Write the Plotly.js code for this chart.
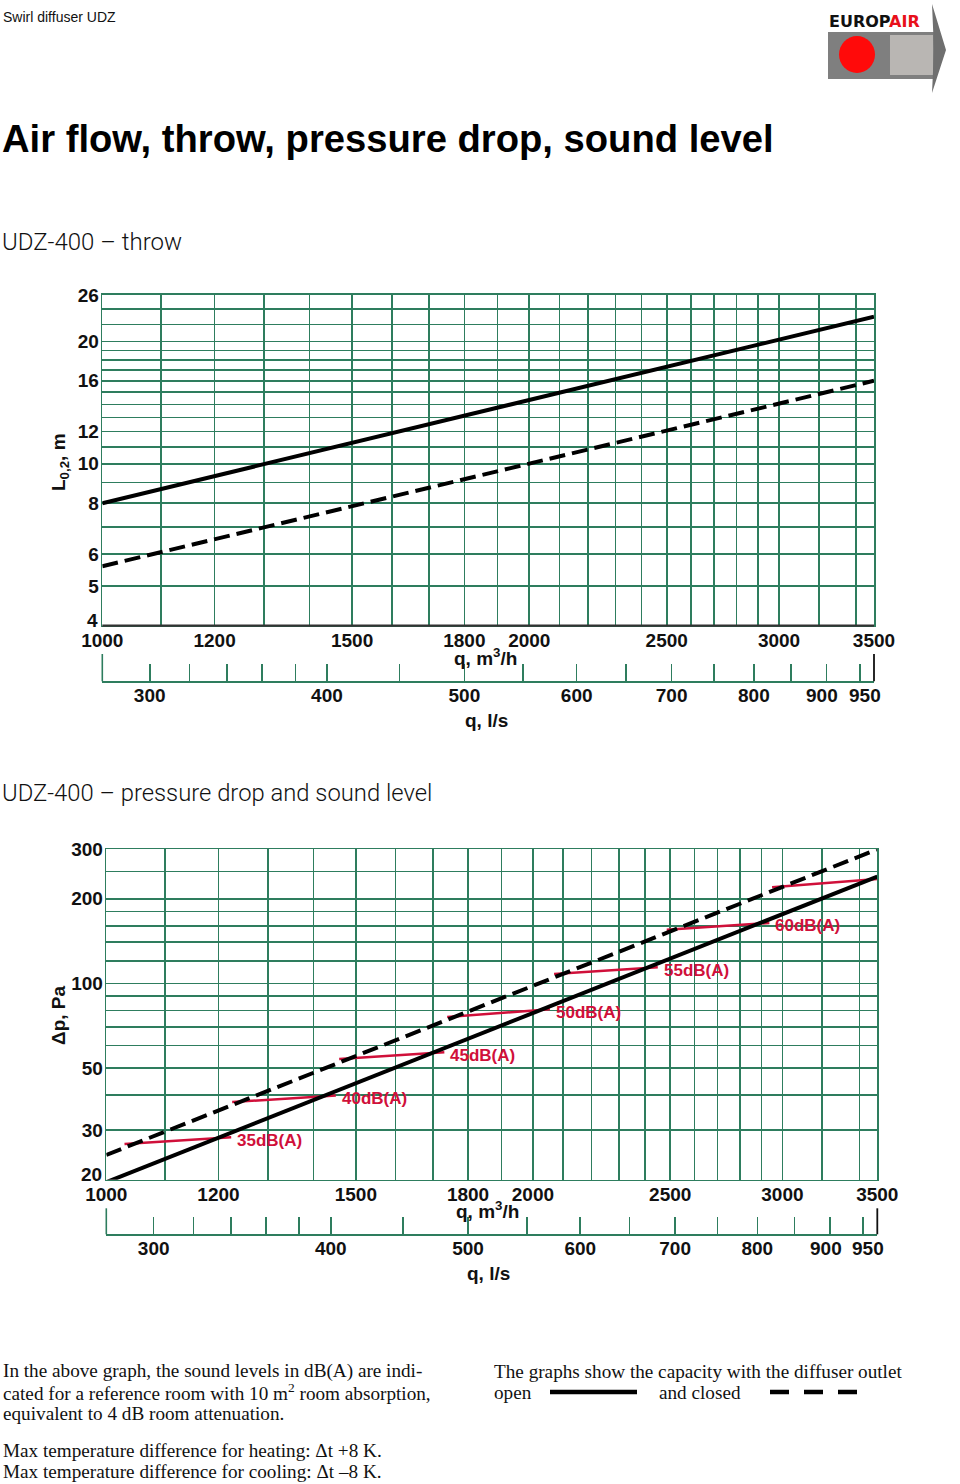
<!DOCTYPE html>
<html><head><meta charset="utf-8">
<script src="https://cdn.plot.ly/plotly-3.0.1.min.js"></script>
<style>html,body{margin:0;padding:0;background:#fff}</style>
</head><body><div id="chart" style="width:960px;height:1484px"></div>
<script>
// ---------- data ----------
const qGrid = [1000,1100,1200,1300,1400,1500,1600,1700,1800,1900,2000,2100,2200,2300,2400,2500,2600,2700,2800,2900,3000,3200,3400,3500];
const qLabels = [1000,1200,1500,1800,2000,2500,3000,3500];
const lsTicks = [300,320,340,360,380,400,450,500,550,600,650,700,750,800,850,900,950];
const lsLabels = [300,400,500,600,700,800];
const lsEndLabels = [900,950];            // crowded pair, nudged apart as in the original
const throwGrid = [4,5,6,7,8,9,10,11,12,13,14,15,16,17,18,19,20,22,24,26];
const throwLabels = [5,6,8,10,12,16,20,26];
const dpGrid = [20,30,40,50,60,70,80,90,100,120,140,160,180,200,250,300];
const dpLabels = [30,50,100,200,300];

const qEnds = [1000, 3500];            // m3/h
const throwOpen = [8.0, 23.0];         // m
const throwClosed = [5.6, 16.0];       // m
const dpOpen = [19.6, 240];            // Pa
const dpClosed = [24.5, 300];          // Pa

const soundText  = ['35dB(A)','40dB(A)','45dB(A)','50dB(A)','55dB(A)','60dB(A)',''];
const soundQ1 = [1030,1227,1460,1740,2070,2486,2950];
const soundP1 = [26.8,37.8,53.8,75.9,108,155,220];
const soundQ2 = [1225,1452,1732,2056,2450,2937,3500];
const soundP2 = [28.3,39.9,56.8,80.8,114,164,235];

// ---------- helpers ----------
const W = 960, H = 1484;
const px = x => x / W, py = y => 1 - y / H;
const GREEN = '#2e7d5e', RED = '#d0103a';
const SANS = 'Liberation Sans, Arial, sans-serif';
const SERIF = 'Liberation Serif, Times New Roman, serif';
const tickFont = {family: SANS, size: 19, color: '#111', weight: 700};
const lg = Math.log10;
const tt = (vals, labels) => vals.map(v => labels.includes(v) ? String(v) : '');

function gridAxis(domain, range, vals, labels, anchor, standoff) {
  return {type: 'log', domain, range, anchor, tickmode: 'array', tickvals: vals, ticktext: tt(vals, labels),
    showgrid: true, gridcolor: GREEN, gridwidth: 1.6, showline: true, linecolor: GREEN, linewidth: 1.6,
    mirror: true, ticks: '', tickangle: 0, ticklabelstandoff: standoff, tickfont: tickFont, zeroline: false, fixedrange: true};
}
function lsAxis(over, pos) {
  return {type: 'log', overlaying: over, anchor: 'free', position: pos, side: 'bottom',
    range: [lg(qEnds[0] / 3.6), lg(qEnds[1] / 3.6)], tickmode: 'array', tickvals: lsTicks, ticktext: tt(lsTicks, lsLabels),
    ticks: 'inside', ticklen: 17, tickwidth: 1.6, tickcolor: GREEN, showline: true, linecolor: GREEN, linewidth: 1.6,
    tickangle: 0, ticklabelstandoff: -4,
    showgrid: false, zeroline: false, tickfont: tickFont, fixedrange: true};
}

// ---------- traces ----------
const segX = [], segY = [];
soundQ1.forEach((q, i) => { segX.push(q, soundQ2[i], null); segY.push(soundP1[i], soundP2[i], null); });

const data = [
  {x: qEnds, y: throwOpen, xaxis: 'x', yaxis: 'y', mode: 'lines', line: {color: '#000', width: 4}, hoverinfo: 'skip'},
  {x: qEnds, y: throwClosed, xaxis: 'x', yaxis: 'y', mode: 'lines', line: {color: '#000', width: 4, dash: '16px,7px'}, hoverinfo: 'skip'},
  {x: segX, y: segY, xaxis: 'x2', yaxis: 'y2', mode: 'lines', line: {color: RED, width: 2.5}, connectgaps: false, hoverinfo: 'skip'},
  {x: qEnds, y: dpOpen, xaxis: 'x2', yaxis: 'y2', mode: 'lines', line: {color: '#000', width: 4}, hoverinfo: 'skip'},
  {x: qEnds, y: dpClosed, xaxis: 'x2', yaxis: 'y2', mode: 'lines', line: {color: '#000', width: 4, dash: '16px,7px'}, hoverinfo: 'skip'},
  {x: lsTicks, y: lsTicks.map(() => null), xaxis: 'x3', yaxis: 'y', mode: 'lines', hoverinfo: 'skip'},
  {x: lsTicks, y: lsTicks.map(() => null), xaxis: 'x4', yaxis: 'y2', mode: 'lines', hoverinfo: 'skip'}
];

// ---------- annotations ----------
const ann = [];
function txt(x, y, text, font, extra) {
  ann.push(Object.assign({xref: 'paper', yref: 'paper', x: px(x), y: py(y), text, showarrow: false,
    xanchor: 'left', yanchor: 'middle', font}, extra || {}));
}
const boldF = {family: SANS, size: 19, color: '#111', weight: 700};
txt(1, 17, 'Swirl diffuser UDZ', {family: SANS, size: 14, color: '#111'});
txt(0, 138, 'Air flow, throw, pressure drop, sound level', {family: SANS, size: 38.2, color: '#000', weight: 700});
txt(0, 242, 'UDZ-400 – throw', {family: 'Roboto, ' + SANS, size: 24, color: '#111', weight: 300});
txt(0, 793, 'UDZ-400 – pressure drop and sound level', {family: 'Roboto, ' + SANS, size: 23.8, color: '#111', weight: 300});

txt(485, 657, 'q, m<sup>3</sup>/h', boldF, {xanchor: 'center'});
txt(486, 720, 'q, l/s', boldF, {xanchor: 'center'});
txt(487, 1210, 'q, m<sup>3</sup>/h', boldF, {xanchor: 'center'});
txt(488, 1273, 'q, l/s', boldF, {xanchor: 'center'});
txt(60, 462, 'L<sub>0,2</sub>, m', boldF, {xanchor: 'center', textangle: -90});
txt(58, 1016, 'Δp, Pa', boldF, {xanchor: 'center', textangle: -90});

// lowest y labels sit a little above their grid line, as in the original
ann.push({xref: 'paper', yref: 'y', x: px(100), y: lg(throwGrid[0]), yshift: 5, text: String(throwGrid[0]),
  showarrow: false, xanchor: 'right', yanchor: 'middle', font: tickFont});
ann.push({xref: 'paper', yref: 'y2', x: px(104), y: lg(dpGrid[0]), yshift: 5, text: String(dpGrid[0]),
  showarrow: false, xanchor: 'right', yanchor: 'middle', font: tickFont});
// 900 / 950 l/s labels, pushed apart
[['x3', 681.3], ['x4', 1234.3]].forEach(([ax, yl]) => {
  lsEndLabels.forEach((v, i) => {
    ann.push({xref: ax, yref: 'paper', x: lg(v), y: py(yl + 14), xshift: i === 0 ? -4 : 5, text: String(v),
      showarrow: false, xanchor: 'center', yanchor: 'middle', font: tickFont});
  });
});

soundText.forEach((t, i) => {
  if (!t) return;
  ann.push({xref: 'x2', yref: 'y2', x: lg(soundQ2[i]), y: lg(soundP2[i]), text: t, showarrow: false,
    xanchor: 'left', yanchor: 'middle', xshift: 4, yshift: -3, font: {family: SANS, size: 17, color: RED, weight: 700}});
});

const serF = {family: SERIF, size: 19.2, color: '#111'};
txt(1, 1371, 'In the above graph, the sound levels in dB(A) are indi-', serF);
txt(1, 1392, 'cated for a reference room with 10 m<sup>2</sup> room absorption,', serF);
txt(1, 1413, 'equivalent to 4 dB room attenuation.', serF);
txt(1, 1450, 'Max temperature difference for heating: Δt +8 K.', serF);
txt(1, 1471, 'Max temperature difference for cooling: Δt –8 K.', serF);
txt(492, 1371, 'The graphs show the capacity with the diffuser outlet', serF);
txt(492, 1392, 'open', serF);
txt(657, 1392, 'and closed', serF);
ann.push({xref: 'paper', yref: 'paper', x: px(827), y: py(21), xanchor: 'left', yanchor: 'middle', showarrow: false,
  text: 'EUROP<span style="color:#e8101a">AIR</span>', font: {family: 'DejaVu Sans, ' + SANS, size: 16, color: '#111', weight: 700}});

// ---------- shapes ----------
const shapes = [];
function pl(x0, y0, x1, y1, color, width, dash) {
  shapes.push({type: 'line', xref: 'paper', yref: 'paper', x0: px(x0), y0: py(y0), x1: px(x1), y1: py(y1),
    line: {color, width, dash: dash || 'solid'}});
}
// dark base line of upper chart
shapes.push({type: 'line', xref: 'x domain', yref: 'y domain', x0: 0, x1: 1, y0: 0, y1: 0, line: {color: '#333', width: 2.2}});
// tall end ticks of l/s scales
[['x', 654, 681.3], ['x2', 1208.3, 1234.3]].forEach(([ax, y0, y1]) => {
  shapes.push({type: 'line', xref: ax + ' domain', yref: 'paper', x0: 0, x1: 0, y0: py(y0), y1: py(y1), line: {color: GREEN, width: 1.6}});
  shapes.push({type: 'line', xref: ax + ' domain', yref: 'paper', x0: 1, x1: 1, y0: py(y0), y1: py(y1), line: {color: '#111', width: 1.8}});
});
// legend samples
pl(550, 1392, 637, 1392, '#000', 4.5);
pl(770, 1392, 857, 1392, '#000', 4.5, '19px,15px');
// logo
shapes.push({type: 'rect', xref: 'paper', yref: 'paper', x0: px(828), x1: px(934), y0: py(79), y1: py(32), fillcolor: '#7f7f7f', line: {width: 0}});
shapes.push({type: 'rect', xref: 'paper', yref: 'paper', x0: px(890), x1: px(933), y0: py(75), y1: py(35), fillcolor: '#b9b6b3', line: {width: 0}});
shapes.push({type: 'circle', xref: 'paper', yref: 'paper', x0: px(839), x1: px(875), y0: py(73), y1: py(36), fillcolor: '#ff0a0a', line: {width: 0}});
shapes.push({type: 'path', xref: 'paper', yref: 'paper', fillcolor: '#6f6f6f', line: {width: 0},
  path: `M ${px(932)} ${py(4)} L ${px(946)} ${py(50)} L ${px(932)} ${py(93)} L ${px(934)} ${py(50)} Z`});

const layout = {
  width: W, height: H, margin: {l: 0, r: 0, t: 0, b: 0}, paper_bgcolor: '#fff', plot_bgcolor: '#fff', showlegend: false,
  font: {family: SANS, color: '#111'},
  xaxis: gridAxis([px(102.3), px(874)], [lg(qEnds[0]), lg(qEnds[1])], qGrid, qLabels, 'y', -3),
  yaxis: gridAxis([py(625.7), py(295)], [lg(throwGrid[0]), lg(throwGrid[throwGrid.length - 1])], throwGrid, throwLabels, 'x', -2),
  xaxis2: gridAxis([px(106.3), px(877.3)], [lg(qEnds[0]), lg(qEnds[1])], qGrid, qLabels, 'y2', -3),
  yaxis2: gridAxis([py(1179.7), py(849.3)], [lg(dpGrid[0]), lg(dpGrid[dpGrid.length - 1])], dpGrid, dpLabels, 'x2', -2),
  xaxis3: lsAxis('x', py(681.3)),
  xaxis4: lsAxis('x2', py(1234.3)),
  annotations: ann, shapes: shapes
};
Plotly.newPlot('chart', data, layout, {staticPlot: true, displayModeBar: false});
</script></body></html>
